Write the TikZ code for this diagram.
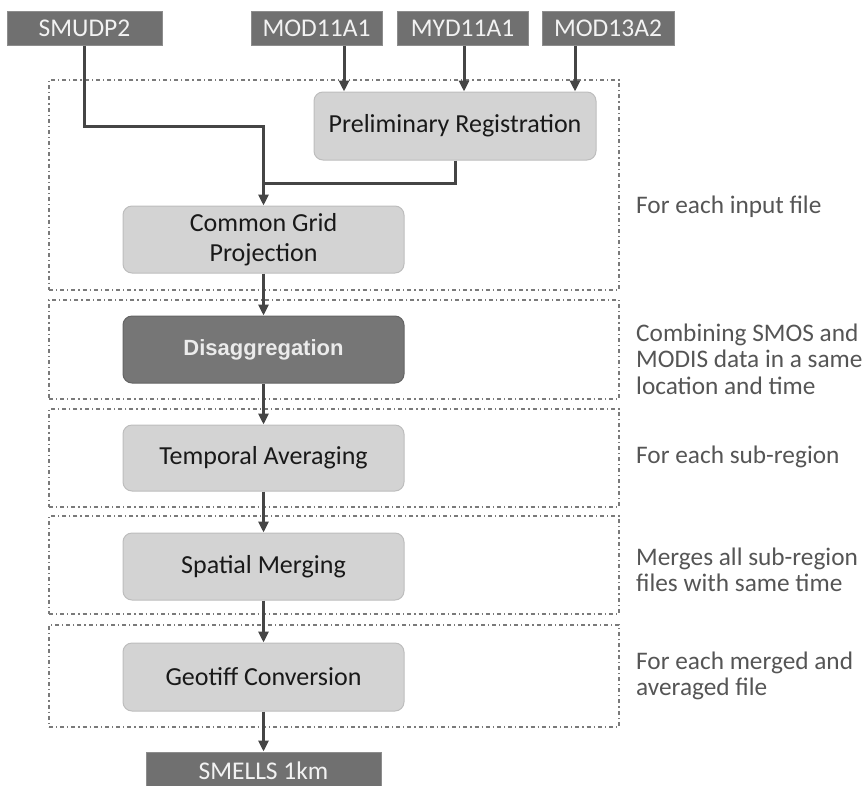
\documentclass[tikz,border=0pt]{standalone}
\usepackage{fontspec}
\setmainfont{Carlito}
\newfontfamily\helv{Liberation Sans}
\usetikzlibrary{arrows.meta,calc}
\definecolor{inbox}{HTML}{707070}
\definecolor{procfill}{HTML}{D3D3D3}
\definecolor{procline}{HTML}{BDBDBD}
\definecolor{darkproc}{HTML}{767676}
\definecolor{conncol}{HTML}{454545}
\definecolor{grpcol}{HTML}{7A7A7A}
\definecolor{notecol}{HTML}{555555}
\tikzset{
  inputbox/.style={draw=inbox!80!white, line width=1pt, fill=inbox, text=white!95!black,
    minimum height=34pt, inner sep=0pt, font=\fontsize{25.5}{28}\selectfont},
  procbox/.style={draw=procline, line width=1pt, fill=procfill, rounded corners=9pt,
    minimum width=281pt, minimum height=67pt, align=center, inner sep=0pt,
    text=black!90, font=\fontsize{26}{30}\selectfont},
  keybox/.style={procbox, fill=darkproc, draw=darkproc!85!black, text=white!92!black,
    font=\helv\bfseries\fontsize{22}{26}\selectfont},
  groupbox/.style={draw=grpcol, line width=1.1pt, dash pattern=on 4pt off 3pt on 1.2pt off 3pt,
    inner sep=0pt},
  note/.style={anchor=west, align=left, text=notecol, inner sep=0pt,
    font=\fontsize{25.3}{26.5}\selectfont},
  conn/.style={draw=conncol, line width=3pt},
  arrowconn/.style={conn, -{Triangle[length=11pt,width=10pt]}, shorten >=0pt},
}
\begin{document}
\begin{tikzpicture}[x=1pt,y=-1pt]
\useasboundingbox (0,0) rectangle (867,785);
% group boxes
\node[groupbox, minimum width=570pt, minimum height=210pt] (g1) at (334,185) {};
\node[groupbox, minimum width=570pt, minimum height=99pt] (g2) at (334,349.5) {};
\node[groupbox, minimum width=570pt, minimum height=98pt] (g3) at (334,458) {};
\node[groupbox, minimum width=570pt, minimum height=98pt] (g4) at (334,565) {};
\node[groupbox, minimum width=570pt, minimum height=102pt] (g5) at (334,676) {};
% inputs
\node[inputbox, minimum width=155pt] (sm) at (84.5,28) {SMUDP2};
\node[inputbox, minimum width=131pt] (m1) at (316.5,28) {MOD11A1};
\node[inputbox, minimum width=131pt] (m2) at (462.5,28) {MYD11A1};
\node[inputbox, minimum width=132pt] (m3) at (608,28) {MOD13A2};
% processes
\node[procbox, minimum width=282pt, minimum height=68pt] (pr) at (455,126) {Preliminary Registration};
\node[procbox] (cg) at (263.5,239.5) {Common Grid\\Projection};
\node[keybox] (da) at (263.5,349.5) {Disaggregation};
\node[procbox, minimum height=66pt] (ta) at (263.5,458) {Temporal Averaging};
\node[procbox] (sp) at (263.5,566.5) {Spatial Merging};
\node[procbox, minimum height=68pt] (ge) at (263.5,677) {Geotiff Conversion};
\node[inputbox, minimum width=235pt, minimum height=38pt] (out) at (263.5,771) {SMELLS 1km};
% notes
\node[note] (n1) at (636,207) {For each input file};
\node[note] (n2) at (636,359) {Combining SMOS and\\MODIS data in a same\\location and time};
\node[note] (n3) at (636,457) {For each sub-region};
\node[note] (n4) at (636,570) {Merges all sub-region\\files with same time};
\node[note] (n5) at (636,676) {For each merged and\\averaged file};
% connectors
\draw[arrowconn] (sm.south) |- (cg.north |- 0,126) -- (cg.north);
\draw[conn] (pr.south) |- (cg.north |- 0,183);
\draw[arrowconn] ([xshift=27.5pt]m1.south) -- ([xshift=27.5pt]m1.south |- pr.north);
\draw[arrowconn] ([xshift=1.5pt]m2.south) -- ([xshift=1.5pt]m2.south |- pr.north);
\draw[arrowconn] ([xshift=-33pt]m3.south) -- ([xshift=-33pt]m3.south |- pr.north);
\draw[arrowconn] (cg.south) -- (da.north);
\draw[arrowconn] (da.south) -- (ta.north);
\draw[arrowconn] (ta.south) -- (sp.north);
\draw[arrowconn] (sp.south) -- (ge.north);
\draw[arrowconn] (ge.south) -- (out.north);
\end{tikzpicture}
\end{document}
